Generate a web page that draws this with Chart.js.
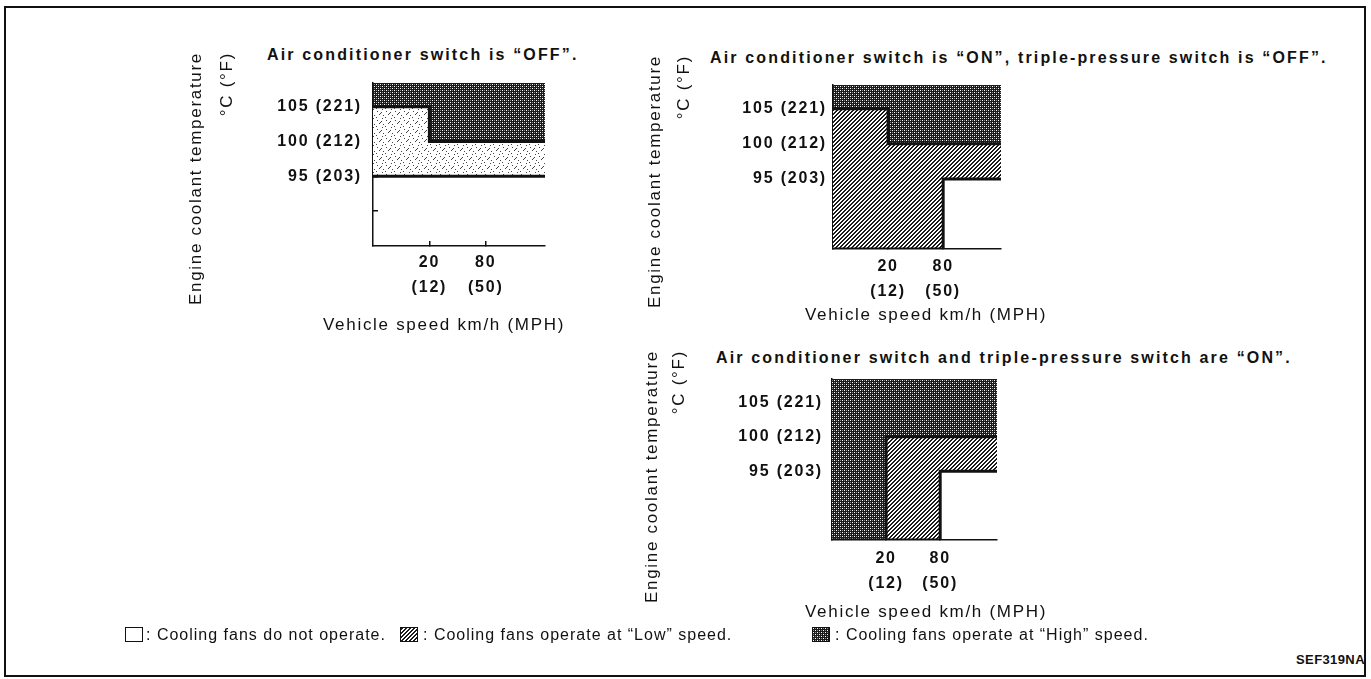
<!DOCTYPE html>
<html>
<head>
<meta charset="utf-8">
<title>Cooling fan control</title>
<script src="https://cdn.jsdelivr.net/npm/chart.js@4.4.1/dist/chart.umd.min.js"></script>
<style>
  html, body { margin: 0; padding: 0; background: #fff; }
  body { width: 1371px; height: 679px; position: relative; overflow: hidden;
         font-family: "Liberation Sans", Arial, sans-serif; color: #111; }
  .frame { position: absolute; left: 4px; top: 6px; width: 1358px; height: 667px; border: 2px solid #111; }
  canvas { position: absolute; }
  .heading { position: absolute; font-weight: bold; font-size: 16px; letter-spacing: 2.15px; white-space: nowrap; line-height: 18px; }
  .key { position: absolute; top: 625px; font-size: 16px; letter-spacing: 1px; white-space: nowrap; line-height: 19px; }
  .swatch { position: absolute; top: 627px; width: 16px; height: 13px; border: 1.5px solid #111; }
  .code { position: absolute; left: 1296px; top: 652px; font-weight: bold; font-size: 13px; letter-spacing: 0.4px; }
</style>
</head>
<body>
<div class="frame"></div>

<div class="heading" style="left:267px; top:46px;">Air conditioner switch is “OFF”.</div>
<div class="heading" style="left:710px; top:49px;">Air conditioner switch is “ON”, triple-pressure switch is “OFF”.</div>
<div class="heading" style="left:716px; top:349px;">Air conditioner switch and triple-pressure switch are “ON”.</div>

<canvas id="acOff" width="420" height="315" style="left:150px; top:30px;"></canvas>
<canvas id="acOn" width="440" height="300" style="left:620px; top:30px;"></canvas>
<canvas id="bothOn" width="440" height="300" style="left:620px; top:330px;"></canvas>

<div class="swatch" id="swOff" style="left:125px;"></div>
<div class="key" style="left:146px;">: Cooling fans do not operate.</div>
<div class="swatch" id="swLow" style="left:400px;"></div>
<div class="key" style="left:423px;">: Cooling fans operate at “Low” speed.</div>
<div class="swatch" id="swHigh" style="left:812px;"></div>
<div class="key" style="left:835px;">: Cooling fans operate at “High” speed.</div>
<div class="code">SEF319NA</div>

<script>
// x positions: start, 20 km/h, 80 km/h, end of the speed range
const speedStops = [0, 1, 2, 3.05];
const speedTickStops = [1, 2];
const speedTickLabels = [['20', '(12)'], ['80', '(50)']];

const tempTickValues = [90, 95, 100, 105];
const tempTickLabels = ['', '95 (203)', '100 (212)', '105 (221)'];
const TEMP_MIN = 85;
const TEMP_MAX = 108.4;

// switch-on temperatures (°C) at each speed stop
// A/C switch OFF
const acOffHigh = [105, 100, 100, 100];
const acOffLow = [95, 95, 95, 95];
// A/C switch ON, triple-pressure switch OFF
const acOnHigh = [105, 100, 100, 100];
const acOnLow = [85, 85, 95, 95];
// A/C and triple-pressure switches ON
const bothOnHigh = [85, 100, 100, 100];
const bothOnLow = [85, 85, 95, 95];

const INK = '#111';
const FAMILY = '"Liberation Sans", Arial, sans-serif';

function makeTile(size, paint) {
  const c = document.createElement('canvas');
  c.width = c.height = size;
  paint(c.getContext('2d'));
  return c;
}

// dark stipple = "High"
const highTile = makeTile(4, g => {
  g.fillStyle = '#1a1a1a'; g.fillRect(0, 0, 4, 4);
  g.fillStyle = '#fff'; g.fillRect(0, 0, 1, 1); g.fillRect(2, 2, 1, 1);
  g.fillStyle = '#888'; g.fillRect(2, 0, 1, 1); g.fillRect(0, 2, 1, 1);
});
// diagonal hatching = "Low"
const lowTile = makeTile(4, g => {
  g.fillStyle = '#fff'; g.fillRect(0, 0, 4, 4);
  g.fillStyle = '#1a1a1a';
  for (let y = 0; y < 4; y++) {
    for (let x = 0; x < 4; x++) {
      if ((x + y) % 4 === 0 || (x + y) % 4 === 1) g.fillRect(x, y, 1, 1);
    }
  }
});
// the lighter, dotted print of "Low" in the A/C OFF chart
const faintTile = makeTile(9, g => {
  g.fillStyle = '#fff'; g.fillRect(0, 0, 9, 9);
  g.fillStyle = '#444';
  [[6, 1], [5, 2], [4, 3], [1, 6], [7, 7], [2, 0], [8, 4]].forEach(([x, y]) => g.fillRect(x, y, 1, 1));
});

// axis captions: rotated temperature caption on the left, speed caption below
const captionPlugin = {
  id: 'captions',
  beforeDraw(chart) {
    chart.ctx.letterSpacing = '1.8px';
  },
  afterDraw(chart, args, opts) {
    const ctx = chart.ctx;
    ctx.save();
    ctx.font = '17px ' + FAMILY;
    ctx.letterSpacing = '1.7px';
    ctx.fillStyle = INK;
    ctx.textBaseline = 'middle';
    ctx.textAlign = 'right';
    opts.yLines.forEach((text, i) => {
      ctx.save();
      ctx.translate(opts.yX + i * opts.yGap, opts.yTop);
      ctx.rotate(-Math.PI / 2);
      ctx.fillText(text, 0, 0);
      ctx.restore();
    });
    ctx.textAlign = 'left';
    ctx.fillText(opts.xText, opts.xLeft, opts.xY);
    ctx.restore();
  }
};

function points(values) {
  return values.map((v, i) => ({ x: speedStops[i], y: v }));
}

function zone(label, values, pattern) {
  return {
    label: label,
    data: points(values),
    stepped: 'before',
    fill: 'end',
    backgroundColor: pattern,
    borderColor: INK,
    borderWidth: 3,
    borderJoinStyle: 'miter',
    borderCapStyle: 'butt',
    pointRadius: 0
  };
}

const tickFont = { family: FAMILY, size: 16, weight: 'bold', lineHeight: '25px' };

function buildChart(id, high, low, lowPatternTile, layout) {
  const canvas = document.getElementById(id);
  const ctx = canvas.getContext('2d');
  const highFill = ctx.createPattern(highTile, 'repeat');
  const lowFill = ctx.createPattern(lowPatternTile, 'repeat');

  return new Chart(ctx, {
    type: 'line',
    data: {
      datasets: [zone('High', high, highFill), zone('Low', low, lowFill)]
    },
    options: {
      responsive: false,
      animation: false,
      events: [],
      layout: { padding: { top: layout.padTop, right: layout.padRight, left: 0, bottom: 0 } },
      plugins: {
        legend: { display: false },
        tooltip: { enabled: false },
        captions: {
          yLines: ['Engine coolant temperature', '°C (°F)'],
          yX: layout.capX, yGap: layout.capGap, yTop: layout.capTop,
          xText: 'Vehicle speed km/h (MPH)', xLeft: layout.xCapLeft, xY: layout.xCapY
        }
      },
      scales: {
        x: {
          type: 'linear',
          min: 0,
          max: speedStops[speedStops.length - 1],
          z: 1,
          afterBuildTicks: axis => { axis.ticks = speedTickStops.map(v => ({ value: v })); },
          afterFit: axis => { axis.height = layout.xHeight; },
          ticks: {
            autoSkip: false,
            maxRotation: 0,
            padding: layout.xPad,
            color: INK,
            font: tickFont,
            callback: v => speedTickLabels[speedTickStops.indexOf(v)]
          },
          grid: { display: true, drawOnChartArea: false, drawTicks: true, tickLength: -5, color: INK, lineWidth: 1.5 },
          border: { display: true, color: INK, width: 1.5 }
        },
        y: {
          type: 'linear',
          min: TEMP_MIN,
          max: TEMP_MAX,
          z: 1,
          afterBuildTicks: axis => { axis.ticks = tempTickValues.map(v => ({ value: v })); },
          afterFit: axis => { axis.width = layout.yWidth; },
          ticks: {
            autoSkip: false,
            padding: layout.yPad,
            color: INK,
            font: tickFont,
            callback: v => tempTickLabels[tempTickValues.indexOf(v)]
          },
          grid: { display: true, drawOnChartArea: false, drawTicks: true, tickLength: -5, color: INK, lineWidth: 1.5 },
          border: { display: true, color: INK, width: 1.5 }
        }
      }
    },
    plugins: [captionPlugin]
  });
}

buildChart('acOff', acOffHigh, acOffLow, faintTile, {
  padTop: 53, padRight: 25, yWidth: 223, xHeight: 99,
  yPad: 16, xPad: 9,
  capX: 46, capGap: 31, capTop: 22,
  xCapLeft: 173, xCapY: 295
});
buildChart('acOn', acOnHigh, acOnLow, lowTile, {
  padTop: 55, padRight: 59, yWidth: 213, xHeight: 81,
  yPad: 11, xPad: 10.5,
  capX: 35, capGap: 29, capTop: 25,
  xCapLeft: 185, xCapY: 285
});
buildChart('bothOn', bothOnHigh, bothOnLow, lowTile, {
  padTop: 49, padRight: 63, yWidth: 212, xHeight: 90,
  yPad: 14, xPad: 11,
  capX: 32, capGap: 27, capTop: 20,
  xCapLeft: 185, xCapY: 282
});

// legend swatches share the plot patterns
document.getElementById('swLow').style.backgroundImage = 'url(' + lowTile.toDataURL() + ')';
document.getElementById('swHigh').style.backgroundImage = 'url(' + highTile.toDataURL() + ')';
</script>
</body>
</html>
